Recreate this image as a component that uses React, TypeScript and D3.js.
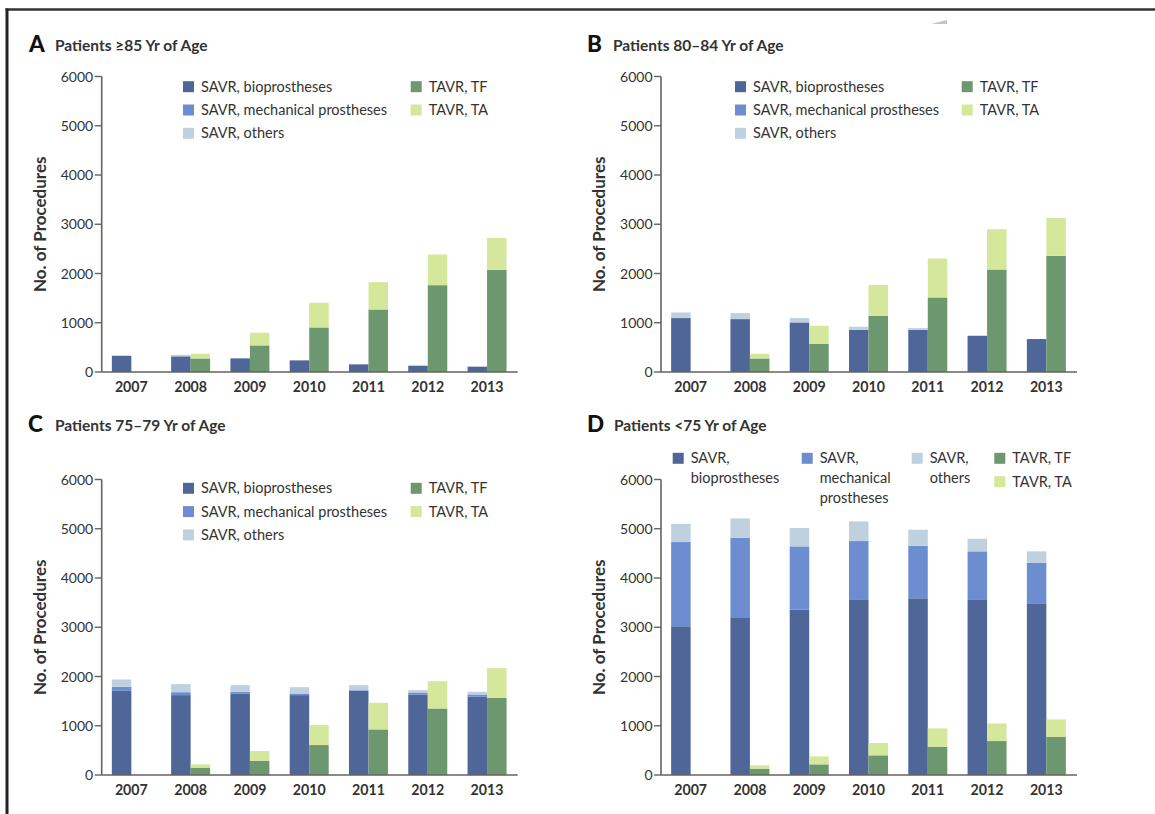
import React from "react";
import * as d3 from "d3";

const YEARS = ["2007", "2008", "2009", "2010", "2011", "2012", "2013"];
const SERIES_LABELS = ["SAVR, bioprostheses", "SAVR, mechanical prostheses", "SAVR, others", "TAVR, TF", "TAVR, TA"];
const SERIES_KEYS = ["bio", "mech", "others", "tf", "ta"];
const COLORS = ["#4f6699", "#6c8ed0", "#bfd1df", "#6d976f", "#d4e79a"];
const Y_TICKS = [0, 1000, 2000, 3000, 4000, 5000, 6000];

// Panel A: patients >=85
const a_bio = [330, 318, 277, 236, 155, 128, 108];
const a_mech = [0, 0, 0, 0, 0, 0, 0];
const a_others = [0, 30, 0, 0, 0, 0, 0];
const a_tf = [0, 275, 540, 905, 1270, 1763, 2074];
const a_ta = [0, 95, 257, 500, 554, 622, 649];

// Panel B: patients 80-84
const b_bio = [1095, 1074, 1007, 858, 858, 736, 669];
const b_mech = [0, 0, 0, 0, 0, 0, 0];
const b_others = [114, 122, 88, 61, 34, 0, 0];
const b_tf = [0, 275, 574, 1142, 1514, 2081, 2358];
const b_ta = [0, 95, 365, 622, 790, 818, 770];

// Panel C: patients 75-79
const c_bio = [1709, 1622, 1655, 1622, 1709, 1635, 1588];
const c_mech = [81, 60, 34, 33, 14, 41, 47];
const c_others = [149, 163, 135, 129, 101, 47, 54];
const c_tf = [0, 149, 290, 608, 926, 1351, 1568];
const c_ta = [0, 67, 196, 406, 540, 554, 601];

// Panel D: patients <75
const d_bio = [3020, 3203, 3358, 3554, 3588, 3554, 3473];
const d_mech = [1710, 1615, 1284, 1196, 1067, 987, 838];
const d_others = [371, 391, 372, 399, 325, 256, 230];
const d_tf = [0, 128, 216, 399, 574, 689, 777];
const d_ta = [0, 68, 162, 250, 372, 358, 351];

const FONT = "Lato, 'Open Sans', sans-serif";
const TEXT = "#333";
const AXIS = "#67625d";

type LegendItem = { s: number; x: number; y: number; lines: string[] };

const wideLegend = (x1: number, x2: number, y0: number): LegendItem[] => [
  { s: 0, x: x1, y: y0, lines: [SERIES_LABELS[0]] },
  { s: 1, x: x1, y: y0 + 23.3, lines: [SERIES_LABELS[1]] },
  { s: 2, x: x1, y: y0 + 46.6, lines: [SERIES_LABELS[2]] },
  { s: 3, x: x2, y: y0, lines: [SERIES_LABELS[3]] },
  { s: 4, x: x2, y: y0 + 23.3, lines: [SERIES_LABELS[4]] },
];

const PANELS = [
  {
    letter: "A", title: "Patients \u226585 Yr of Age", lx: 29, tx: 55, ty: 51,
    ox: 101.7, y0: 372, data: [a_bio, a_mech, a_others, a_tf, a_ta],
    legend: wideLegend(183, 410.7, 86.7),
  },
  {
    letter: "B", title: "Patients 80\u201384 Yr of Age", lx: 587, tx: 613, ty: 51,
    ox: 661, y0: 372, data: [b_bio, b_mech, b_others, b_tf, b_ta],
    legend: wideLegend(735, 961.7, 86.7),
  },
  {
    letter: "C", title: "Patients 75\u201379 Yr of Age", lx: 28, tx: 55, ty: 431,
    ox: 101.7, y0: 775, data: [c_bio, c_mech, c_others, c_tf, c_ta],
    legend: wideLegend(183, 410.7, 488.3),
  },
  {
    letter: "D", title: "Patients <75 Yr of Age", lx: 587, tx: 614, ty: 431,
    ox: 661, y0: 775, data: [d_bio, d_mech, d_others, d_tf, d_ta],
    legend: [
      { s: 0, x: 672.7, y: 458.3, lines: ["SAVR,", "bioprostheses"] },
      { s: 1, x: 801.7, y: 458.3, lines: ["SAVR,", "mechanical", "prostheses"] },
      { s: 2, x: 911.7, y: 458.3, lines: ["SAVR,", "others"] },
      { s: 3, x: 994.3, y: 458.3, lines: [SERIES_LABELS[3]] },
      { s: 4, x: 994.3, y: 481.7, lines: [SERIES_LABELS[4]] },
    ] as LegendItem[],
  },
];

function Panel({ p }: { p: (typeof PANELS)[number] }) {
  const y = d3.scaleLinear().domain([0, 6000]).range([p.y0, p.y0 - 295.5]);
  const x = d3.scalePoint<string>().domain(YEARS).range([p.ox, p.ox + 415]).padding(0.5);
  const bw = 19.5;
  const rows = YEARS.map((yr, i) => {
    const r: any = { year: yr };
    SERIES_KEYS.forEach((k, s) => (r[k] = p.data[s][i]));
    return r;
  });
  const savr = d3.stack<any>().keys(["bio", "mech", "others"])(rows);
  const tavr = d3.stack<any>().keys(["tf", "ta"])(rows);
  const xEnd = p.ox + 416;
  return (
    <g>
      <text x={p.lx} y={p.ty + 1} fontFamily={FONT} fontWeight={900} fontSize={22.5} fill="#111">{p.letter}</text>
      <text x={p.tx} y={p.ty} fontFamily={FONT} fontWeight={700} fontSize={15.5} fill={TEXT}>{p.title}</text>
      {savr.map((layer, li) => (
        <g key={"s" + li} fill={COLORS[li]}>
          {layer.map((d, i) =>
            d[1] > d[0] ? (
              <rect key={i} x={(x(YEARS[i]) as number) - bw} width={bw} y={y(d[1])} height={y(d[0]) - y(d[1])} />
            ) : null
          )}
        </g>
      ))}
      {tavr.map((layer, li) => (
        <g key={"t" + li} fill={COLORS[3 + li]}>
          {layer.map((d, i) =>
            d[1] > d[0] ? (
              <rect key={i} x={x(YEARS[i]) as number} width={bw} y={y(d[1])} height={y(d[0]) - y(d[1])} />
            ) : null
          )}
        </g>
      ))}
      <line x1={p.ox} x2={p.ox} y1={y(6000)} y2={p.y0} stroke={AXIS} strokeWidth={1.6} />
      <line x1={p.ox} x2={xEnd} y1={p.y0} y2={p.y0} stroke={AXIS} strokeWidth={1.6} />
      {Y_TICKS.map((t) => (
        <g key={t}>
          <line x1={p.ox - 7} x2={p.ox} y1={y(t)} y2={y(t)} stroke={AXIS} strokeWidth={1.4} />
          <text x={p.ox - 8.5} y={y(t) + 5} textAnchor="end" fontFamily={FONT} fontSize={14} fill={TEXT}>{t}</text>
        </g>
      ))}
      {YEARS.map((yr) => (
        <text key={yr} x={x(yr)} y={p.y0 + 20} textAnchor="middle" fontFamily={FONT} fontWeight={700} fontSize={14.2} fill={TEXT}>{yr}</text>
      ))}
      <text
        transform={`translate(${p.ox - 56},${(y(6000) + p.y0) / 2}) rotate(-90)`}
        textAnchor="middle" fontFamily={FONT} fontWeight={700} fontSize={17} fill={TEXT}
      >No. of Procedures</text>
      {p.legend.map((l) => (
        <g key={l.s}>
          <rect x={l.x} y={l.y - 5.5} width={11} height={11} fill={COLORS[l.s]} />
          {l.lines.map((ln, j) => (
            <text key={j} x={l.x + 18} y={l.y + 5 + j * 20} fontFamily={FONT} fontSize={14.5} fill={TEXT}>{ln}</text>
          ))}
        </g>
      ))}
    </g>
  );
}

export default function App() {
  return (
    <svg width={1155} height={814} style={{ position: "absolute", left: 0, top: 0, background: "#fff" }}>
      <rect x={0} y={0} width={1155} height={814} fill="#fff" />
      <line x1={5.5} x2={1155} y1={9.5} y2={9.5} stroke="#333" strokeWidth={2.5} />
      <line x1={7} x2={7} y1={8.5} y2={814} stroke="#222" strokeWidth={3} />
      <polygon points="931,24 947,24 947,20" fill="#c4c4c4" />
      {PANELS.map((p) => (
        <Panel key={p.letter} p={p} />
      ))}
    </svg>
  );
}
